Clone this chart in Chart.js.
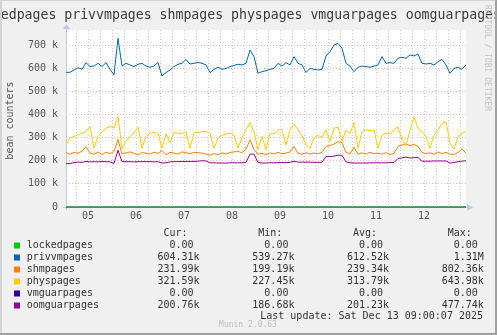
<!DOCTYPE html>
<html>
<head>
<meta charset="utf-8">
<script src="https://cdn.jsdelivr.net/npm/chart.js@4"></script>
<style>
  html, body { margin: 0; padding: 0; background: #f0f0f0; }
  canvas { display: block; }
</style>
</head>
<body>
<canvas id="chart" width="497" height="335"></canvas>
<script>
// valeurs en milliers (k), un point toutes les 2 heures depuis le 05 à 01h
const privvmpages = [
    582, 582, 592, 602, 595, 624, 607, 609, 621, 607, 624, 595, 571, 729, 609, 621, 614,
    607, 617, 621, 609, 604, 609, 625, 566, 581, 592, 607, 617, 621, 638, 618, 621, 625,
    621, 614, 581, 595, 604, 595, 599, 607, 612, 617, 614, 621, 678, 650, 578, 585, 589,
    595, 599, 621, 609, 624, 614, 650, 621, 614, 581, 599, 595, 592, 595, 653, 671, 700,
    707, 686, 621, 609, 585, 604, 609, 607, 604, 609, 614, 650, 621, 624, 621, 643, 647,
    643, 657, 653, 661, 621, 618, 621, 614, 628, 638, 614, 578, 599, 604, 595, 614
];
const shmpages = [
    235, 228, 236, 232, 241, 260, 233, 228, 238, 226, 237, 231, 240, 292, 229, 234, 238,
    232, 226, 235, 233, 229, 237, 231, 244, 226, 236, 233, 229, 238, 234, 231, 236, 235,
    233, 228, 224, 231, 226, 234, 229, 236, 238, 240, 235, 250, 290, 248, 228, 232, 226,
    234, 229, 236, 231, 233, 238, 262, 232, 228, 235, 229, 233, 230, 236, 262, 266, 272,
    282, 278, 236, 230, 258, 228, 234, 229, 236, 231, 233, 228, 235, 226, 232, 262, 268,
    272, 265, 270, 262, 236, 230, 234, 228, 238, 231, 236, 229, 227, 235, 252, 232
];
const physpages = [
    269, 298, 305, 312, 319, 326, 348, 254, 305, 326, 341, 348, 341, 391, 254, 283, 305,
    319, 345, 254, 305, 319, 322, 319, 254, 316, 276, 322, 319, 316, 326, 254, 319, 322,
    326, 326, 319, 254, 298, 309, 316, 319, 312, 254, 302, 333, 365, 326, 247, 305, 247,
    319, 316, 333, 336, 269, 333, 359, 333, 309, 269, 254, 298, 309, 302, 333, 283, 341,
    345, 283, 333, 319, 365, 254, 326, 333, 330, 333, 254, 312, 319, 316, 333, 348, 290,
    264, 333, 388, 341, 326, 305, 254, 309, 333, 362, 369, 276, 250, 305, 319, 326
];
const oomguarpages = [
    188, 188, 192, 194, 193, 197, 195, 196, 195, 197, 196, 195, 188, 245, 196, 196, 196,
    195, 196, 196, 196, 196, 195, 196, 190, 191, 195, 196, 196, 197, 197, 197, 197, 198,
    200, 199, 191, 191, 190, 190, 190, 191, 191, 191, 191, 192, 229, 228, 192, 190, 190,
    191, 191, 192, 192, 192, 193, 198, 194, 194, 194, 194, 193, 193, 194, 218, 218, 220,
    224, 223, 195, 191, 190, 190, 190, 190, 191, 191, 191, 191, 191, 192, 192, 210, 212,
    216, 212, 213, 214, 198, 198, 198, 199, 199, 199, 199, 190, 192, 196, 198, 200
];
const lockedpages = [0, 0];
const vmguarpages = [0, 0];
const flatHours = [1, 201];

const dayLabels = ['05', '06', '07', '08', '09', '10', '11', '12'];
const yTickValues = [0, 50, 100, 150, 200, 250, 300, 350, 400, 450, 500, 550, 600, 650, 700, 750];

const seriesNames = ['lockedpages', 'privvmpages', 'shmpages', 'physpages', 'vmguarpages', 'oomguarpages'];
const seriesColors = ['#00cc00', '#0066b3', '#ff8000', '#ffcc00', '#330099', '#990099'];
const curVals = ['  0.00 ', '604.31k', '231.99k', '321.59k', '  0.00 ', '200.76k'];
const minVals = ['  0.00 ', '539.27k', '199.19k', '227.45k', '  0.00 ', '186.68k'];
const avgVals = ['  0.00 ', '612.52k', '239.34k', '313.79k', '  0.00 ', '201.23k'];
const maxVals = ['  0.00 ', '  1.31M', '802.36k', '643.98k', '  0.00 ', '477.74k'];

const MONO = '"DejaVu Sans Mono", "Liberation Mono", monospace';
const MAJOR = 'rgba(240, 140, 140, 0.6)';
const MINOR = 'rgba(175, 175, 175, 0.6)';
const AXIS = '#c4c4ee';

const sampleHours = privvmpages.map((_, i) => 1 + 2 * i);
const toPoints = (hours, vals) => vals.map((v, i) => ({ x: hours[i], y: v * 1000 }));

function lineDs(idx, hours, vals) {
    return {
        label: seriesNames[idx],
        data: toPoints(hours, vals),
        borderColor: seriesColors[idx],
        borderWidth: 1,
        pointRadius: 0,
        tension: 0,
        clip: false
    };
}

// décor façon munin / rrdtool
const muninDecor = {
    id: 'muninDecor',
    beforeDraw(chart) {
        const { ctx, chartArea: a } = chart;
        ctx.save();
        ctx.fillStyle = '#f0f0f0';
        ctx.fillRect(0, 0, chart.width, chart.height);
        ctx.fillStyle = '#ffffff';
        ctx.fillRect(a.left, a.top, a.right - a.left, a.bottom - a.top);
        ctx.restore();
    },
    beforeDatasetsDraw(chart) {
        const { ctx, chartArea: a } = chart;
        ctx.save();
        ctx.strokeStyle = AXIS;
        ctx.fillStyle = AXIS;
        ctx.lineWidth = 1;
        ctx.beginPath();
        ctx.moveTo(a.left + 0.5, a.bottom + 3);
        ctx.lineTo(a.left + 0.5, a.top - 1);
        ctx.moveTo(a.left - 3, a.bottom + 0.5);
        ctx.lineTo(a.right + 1, a.bottom + 0.5);
        ctx.stroke();
        ctx.beginPath();
        ctx.moveTo(a.left - 3, a.top - 1);
        ctx.lineTo(a.left + 4, a.top - 1);
        ctx.lineTo(a.left + 0.5, a.top - 6);
        ctx.closePath();
        ctx.fill();
        ctx.beginPath();
        ctx.moveTo(a.right + 1, a.bottom - 3);
        ctx.lineTo(a.right + 1, a.bottom + 4);
        ctx.lineTo(a.right + 7, a.bottom + 0.5);
        ctx.closePath();
        ctx.fill();
        ctx.restore();
    },
    afterDraw(chart) {
        const { ctx, chartArea: a } = chart;
        ctx.save();
        ctx.fillStyle = '#3a3a3a';
        ctx.font = '13.2px ' + MONO;
        ctx.textAlign = 'center';
        ctx.textBaseline = 'alphabetic';
        ctx.fillText(seriesNames.join(' '), 235, 18.5);

        // titre axe y
        ctx.save();
        ctx.translate(10, (a.top + a.bottom) / 2 + 2);
        ctx.rotate(-Math.PI / 2);
        ctx.font = '10px ' + MONO;
        ctx.fillStyle = '#555555';
        ctx.textBaseline = 'middle';
        ctx.fillText('bean counters', 0, 0);
        ctx.restore();

        // filigrane rrdtool
        ctx.save();
        ctx.translate(487, 5);
        ctx.rotate(Math.PI / 2);
        ctx.font = '8px ' + MONO;
        ctx.fillStyle = '#c4c4c4';
        ctx.textAlign = 'left';
        ctx.textBaseline = 'middle';
        ctx.fillText('RRDTOOL / TOBI OETIKER', 0, 0);
        ctx.restore();

        // tableau de légende
        ctx.font = '10px ' + MONO;
        ctx.textAlign = 'left';
        ctx.textBaseline = 'middle';
        ctx.fillStyle = '#333333';
        const cols = [157.5, 252.3, 347, 441.7];
        ['Cur:', 'Min:', 'Avg:', 'Max:'].forEach((h, i) => ctx.fillText(h, cols[i] + 6, 233.5));
        seriesNames.forEach((name, i) => {
            const y = 245.5 + i * 12;
            ctx.fillStyle = seriesColors[i];
            ctx.fillRect(14, y - 3, 6, 6);
            ctx.fillStyle = '#333333';
            ctx.fillText(name, 26.7, y);
            ctx.fillText(curVals[i], cols[0], y);
            ctx.fillText(minVals[i], cols[1], y);
            ctx.fillText(avgVals[i], cols[2], y);
            ctx.fillText(maxVals[i], cols[3], y);
        });
        ctx.textAlign = 'right';
        ctx.fillText('Last update: Sat Dec 13 09:00:07 2025', 483, 316.5);

        ctx.font = '8px ' + MONO;
        ctx.fillStyle = '#c0c0c0';
        ctx.textAlign = 'center';
        ctx.fillText('Munin 2.0.63', 248, 324.5);

        // cadre
        ctx.fillStyle = '#d4d4d4';
        ctx.fillRect(0, 0, chart.width, 1);
        ctx.fillRect(0, 0, 2, chart.height);
        ctx.fillStyle = '#a0a0a0';
        ctx.fillRect(chart.width - 2, 0, 2, chart.height);
        ctx.fillRect(0, chart.height - 2, chart.width, 2);
        ctx.restore();
    }
};

new Chart(document.getElementById('chart'), {
    type: 'line',
    data: {
        datasets: [
            lineDs(0, flatHours, lockedpages),
            lineDs(5, sampleHours, oomguarpages),
            lineDs(4, flatHours, vmguarpages),
            lineDs(3, sampleHours, physpages),
            lineDs(2, sampleHours, shmpages),
            lineDs(1, sampleHours, privvmpages)
        ]
    },
    options: {
        responsive: false,
        animation: false,
        devicePixelRatio: 1,
        layout: { padding: { top: 30, right: 31, left: 0, bottom: 0 } },
        plugins: {
            legend: { display: false },
            title: { display: false },
            tooltip: { enabled: false }
        },
        scales: {
            x: {
                type: 'linear',
                min: 1,
                max: 201,
                afterBuildTicks: s => {
                    const t = [];
                    for (let h = 6; h <= 198; h += 6) t.push({ value: h });
                    s.ticks = t;
                },
                afterFit: s => { s.height = 128; },
                grid: {
                    drawTicks: false,
                    lineWidth: 1,
                    color: c => (c.tick && c.tick.value % 24 === 0) ? MAJOR : MINOR
                },
                border: { display: false, dash: [1, 2] },
                ticks: {
                    autoSkip: false,
                    maxRotation: 0,
                    padding: 3,
                    color: '#555555',
                    font: { family: MONO, size: 10 },
                    callback: v => (v % 24 === 12) ? dayLabels[Math.floor(v / 24)] : ''
                }
            },
            y: {
                min: 0,
                max: 765000,
                afterBuildTicks: s => { s.ticks = yTickValues.map(v => ({ value: v * 1000 })); },
                afterFit: s => { s.width = 66; },
                grid: {
                    drawTicks: false,
                    lineWidth: 1,
                    color: c => (c.tick && c.tick.value % 100000 === 0) ? MAJOR : MINOR
                },
                border: { display: false, dash: [1, 2] },
                ticks: {
                    padding: 8,
                    color: '#555555',
                    font: { family: MONO, size: 10 },
                    callback: v => (v % 100000 !== 0) ? '' : (v === 0 ? '0' : (v / 1000) + ' k')
                }
            }
        }
    },
    plugins: [muninDecor]
});
</script>
</body>
</html>
